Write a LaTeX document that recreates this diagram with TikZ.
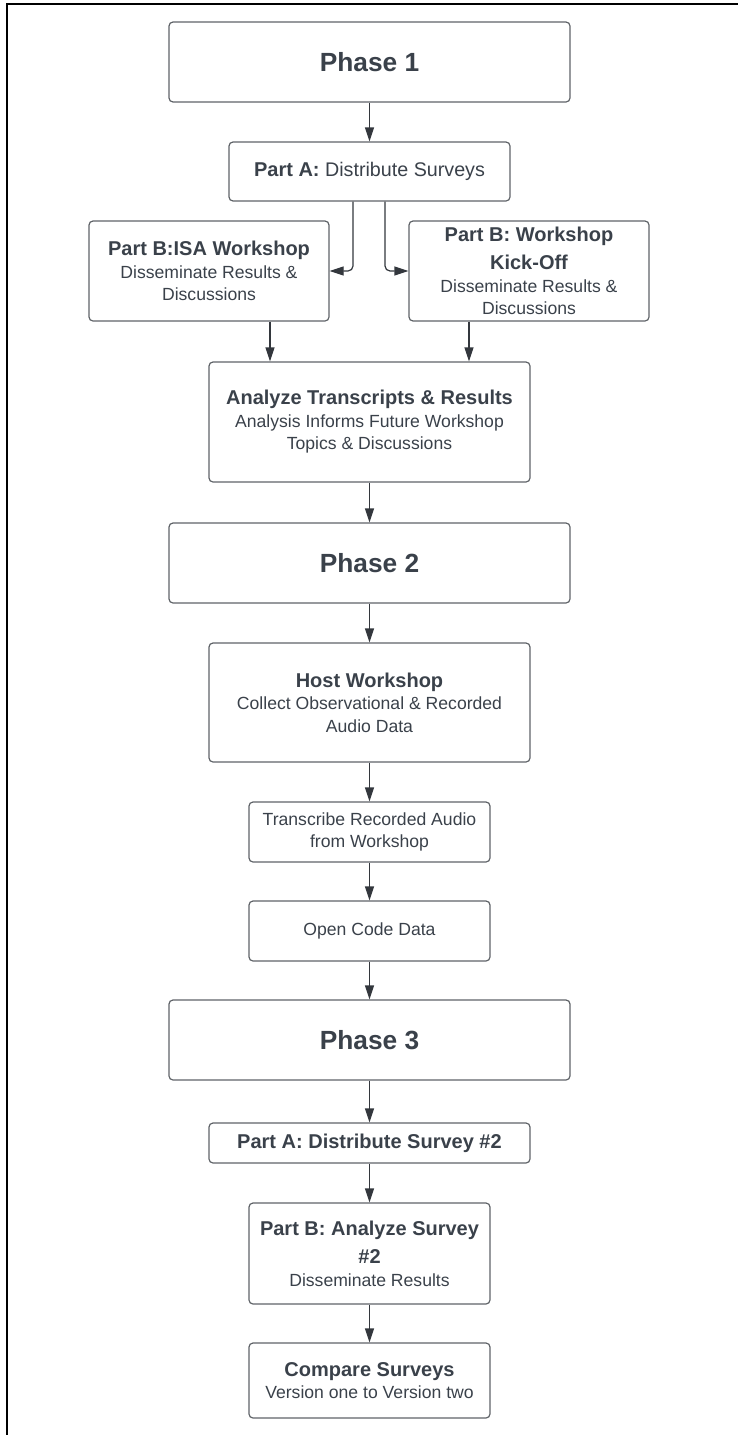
\documentclass[tikz,border=0pt]{standalone}
\usepackage{fontspec}
\setmainfont{Liberation Sans}
\usetikzlibrary{arrows.meta}
\definecolor{txt}{HTML}{3A414A}
\definecolor{edge}{HTML}{5F6368}
\definecolor{wire}{HTML}{33373D}
\newcommand\ttl[1]{{\fontsize{20}{22.5}\selectfont\bfseries #1}}

\begin{document}
\begin{tikzpicture}[x=1pt, y=-1pt, >={Triangle[length=14pt,width=9pt]},
  box/.style={draw=edge, line width=1.2pt, rounded corners=4pt, align=center, text=txt, inner sep=0pt, font=\fontsize{17.6}{22.5}\selectfont},
  phase/.style={box, minimum width=401pt, minimum height=80pt, font=\fontsize{26.3}{30}\selectfont\bfseries},
  flow/.style={->, draw=wire, line width=1.2pt}]
  \useasboundingbox (0,0) rectangle (738,1435);
  \draw[line width=2.5pt] (7,1435) -- (7,4) -- (738,4);
  \node[phase] (ph1) at (369.5,62) {Phase 1};
  \node[box, minimum width=281pt, minimum height=59pt, font=\fontsize{19.7}{22.5}\selectfont] (parta) at (369.5,171.5) {\ttl{Part A:} Distribute Surveys};
  \node[box, minimum width=240pt, minimum height=100pt] (isa) at (209,271) {\ttl{Part B:ISA Workshop}\\Disseminate Results \&\\Discussions};
  \node[box, minimum width=240pt, minimum height=100pt] (kick) at (529,271) {\ttl{Part B: Workshop}\\[6pt]\ttl{Kick-Off}\\Disseminate Results \&\\Discussions};
  \node[box, minimum width=321pt, minimum height=120pt] (analyze) at (369.5,422) {\ttl{Analyze Transcripts \& Results}\\Analysis Informs Future Workshop\\Topics \& Discussions};
  \node[phase] (ph2) at (369.5,563) {Phase 2};
  \node[box, minimum width=321pt, minimum height=119pt] (host) at (369.5,702.5) {\ttl{Host Workshop}\\Collect Observational \& Recorded\\Audio Data};
  \node[box, minimum width=241pt, minimum height=60pt] (transcribe) at (369.5,832) {Transcribe Recorded Audio\\from Workshop};
  \node[box, minimum width=241pt, minimum height=60pt] (opencode) at (369.5,931) {Open Code Data};
  \node[phase] (ph3) at (369.5,1040) {Phase 3};
  \node[box, minimum width=321pt, minimum height=40pt] (parta2) at (369.5,1143) {\ttl{Part A: Distribute Survey \#2}};
  \node[box, minimum width=241pt, minimum height=101pt] (partb2) at (369.5,1253.5) {\ttl{Part B: Analyze Survey}\\[6pt]\ttl{\#2}\\Disseminate Results};
  \node[box, minimum width=241pt, minimum height=75pt] (compare) at (369.5,1380.5) {\ttl{Compare Surveys}\\Version one to Version two};
  \draw[flow] (ph1) -- (parta);
  \draw[flow, rounded corners=5pt] ([xshift=-16.5pt]parta.south) |- (isa.east);
  \draw[flow, rounded corners=5pt] ([xshift=15.5pt]parta.south) |- (kick.west);
  \draw[flow] ([xshift=61pt]isa.south) -- ([xshift=61pt]isa.south |- analyze.north);
  \draw[flow] ([xshift=-60pt]kick.south) -- ([xshift=-60pt]kick.south |- analyze.north);
  \foreach \a/\b in {analyze/ph2, ph2/host, host/transcribe, transcribe/opencode, opencode/ph3, ph3/parta2, parta2/partb2, partb2/compare}
    \draw[flow] (\a) -- (\b);
\end{tikzpicture}
\end{document}
